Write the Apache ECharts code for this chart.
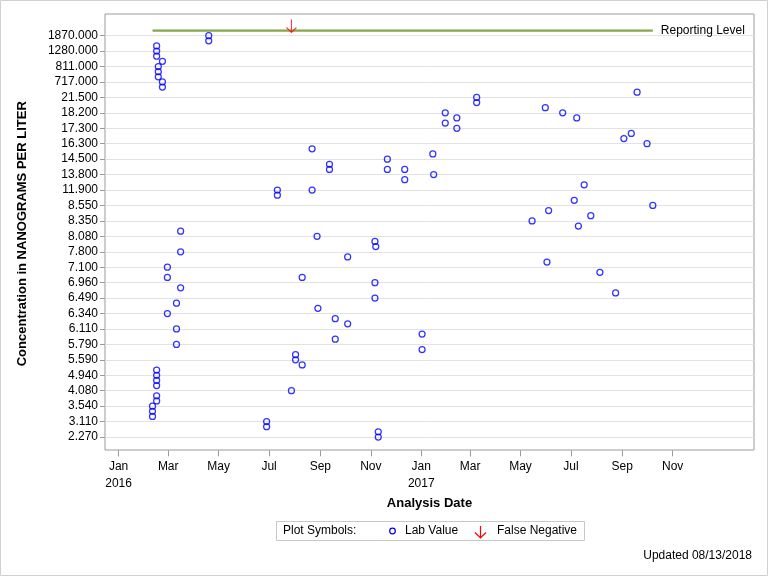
<!DOCTYPE html>
<html>
<head>
<meta charset="utf-8">
<script src="https://cdn.jsdelivr.net/npm/echarts@6/dist/echarts.min.js"></script>
<style>
html,body{margin:0;padding:0;background:#fff;}
#chart{width:768px;height:576px;}
</style>
</head>
<body>
<div id="chart"></div>
<script>
// ---- Data ----
// Distinct concentration values (ascending) used as the discrete y categories
const yCategoryValues = [
  2.27, 2.5, 2.9, 3.11, 3.25, 3.4, 3.54, 3.7, 3.9, 4.08,
  4.3, 4.6, 4.94, 5.2, 5.4, 5.59, 5.65, 5.72, 5.79, 5.9,
  6.0, 6.11, 6.18, 6.26, 6.34, 6.39, 6.44, 6.49, 6.65, 6.8,
  6.96, 7.0, 7.05, 7.1, 7.3, 7.55, 7.8, 7.9, 8.0, 8.08,
  8.17, 8.26, 8.35, 8.42, 8.49, 8.55, 9.5, 10.7, 11.9, 12.5,
  13.2, 13.8, 14.0, 14.3, 14.5, 15.1, 15.7, 16.3, 16.6, 17.0,
  17.3, 17.6, 17.9, 18.2, 19.3, 20.4, 21.5, 23.1, 640, 717,
  750, 780, 811, 950, 1100, 1280, 1470, 1670, 1870, 2000
];
const reportingLevel = 2000;

// Lab values: analysis dates and concentrations (ng/L)
const labDates = [
  '2016-02-11','2016-02-11','2016-02-11',
  '2016-02-16','2016-02-16','2016-02-16','2016-02-16','2016-02-16','2016-02-16','2016-02-16','2016-02-16','2016-02-16',
  '2016-02-18','2016-02-18','2016-02-18',
  '2016-02-23','2016-02-23','2016-02-23',
  '2016-02-29','2016-02-29','2016-02-29',
  '2016-03-11','2016-03-11','2016-03-11',
  '2016-03-16','2016-03-16','2016-03-16',
  '2016-04-19','2016-04-19',
  '2016-06-28','2016-06-28',
  '2016-07-11','2016-07-11',
  '2016-07-28',
  '2016-08-02','2016-08-02',
  '2016-08-10','2016-08-10',
  '2016-08-22','2016-08-22',
  '2016-08-28',
  '2016-08-29',
  '2016-09-12','2016-09-12',
  '2016-09-19','2016-09-19',
  '2016-10-04','2016-10-04',
  '2016-11-06','2016-11-06','2016-11-06',
  '2016-11-07',
  '2016-11-10','2016-11-10',
  '2016-11-21','2016-11-21',
  '2016-12-12','2016-12-12',
  '2017-01-02','2017-01-02',
  '2017-01-15',
  '2017-01-16',
  '2017-01-30','2017-01-30',
  '2017-02-13','2017-02-13',
  '2017-03-09','2017-03-09',
  '2017-05-15','2017-05-31','2017-06-02','2017-06-04','2017-06-21',
  '2017-07-05','2017-07-08','2017-07-10','2017-07-17','2017-07-25',
  '2017-08-05','2017-08-24','2017-09-03','2017-09-12','2017-09-19',
  '2017-10-01','2017-10-08'
];
const labConcentrations = [
  3.25, 3.4, 3.54,
  3.7, 3.9, 4.3, 4.6, 4.94, 5.2, 1100, 1280, 1470,
  750, 780, 811,
  640, 717, 950,
  6.34, 7.0, 7.1,
  5.79, 6.11, 6.44,
  6.8, 7.8, 8.17,
  1670, 1870,
  2.9, 3.11,
  10.7, 11.9,
  4.08,
  5.59, 5.65,
  5.4, 7.0,
  11.9, 15.7,
  8.08,
  6.39,
  14.0, 14.3,
  5.9, 6.26,
  6.18, 7.55,
  6.49, 6.96, 8.0,
  7.9,
  2.27, 2.5,
  14.0, 14.5,
  13.2, 14.0,
  5.72, 6.0,
  15.1,
  13.8,
  17.6, 18.2,
  17.3, 17.9,
  20.4, 21.5,
  8.35, 19.3, 7.3, 8.49, 18.2,
  9.5, 17.9, 8.26, 12.5, 8.42,
  7.05, 6.65, 16.6, 17.0, 23.1,
  16.3, 8.55
];

// False negative results (reported at the reporting level)
const falseNegativeDates = ['2016-07-28'];

// X axis ticks
const xTickDates = ['2016-01-01','2016-03-01','2016-05-01','2016-07-01','2016-09-01','2016-11-01',
                    '2017-01-01','2017-03-01','2017-05-01','2017-07-01','2017-09-01','2017-11-01'];
const xTickLabels = ['Jan\n2016','Mar','May','Jul','Sep','Nov','Jan\n2017','Mar','May','Jul','Sep','Nov'];

// ---- Helpers ----
const toTime = s => { const p = s.split('-').map(Number); return Date.UTC(p[0], p[1]-1, p[2]); };
const fmt = v => v.toFixed(3);
const yCategories = yCategoryValues.map(fmt);
const xTickValues = xTickDates.map(toTime);

const labData = labDates.map((d, i) => [toTime(d), fmt(labConcentrations[i])]);
const fnData = falseNegativeDates.map(d => [toTime(d), fmt(reportingLevel)]);
const allTimes = labDates.map(toTime);
const rlData = [[Math.min(...allTimes), fmt(reportingLevel)], [Math.max(...allTimes), fmt(reportingLevel)]];

const FONT = 'Arial, "Liberation Sans", sans-serif';
const FRAME = '#9a9a9a';

const chart = echarts.init(document.getElementById('chart'), null, {renderer: 'canvas'});
chart.setOption({
  animation: false,
  backgroundColor: '#fff',
  textStyle: {fontFamily: FONT},
  grid: [
    {left: 105, right: 14, top: 30.5, bottom: 139, show: false},
    {left: 105, right: 14, top: 14, bottom: 126, show: true, borderColor: FRAME, borderWidth: 1, backgroundColor: 'transparent', z: 0}
  ],
  xAxis: [
    {
      type: 'value', gridIndex: 0, scale: true,
      min: Date.UTC(2015, 11, 15, 13, 30),
      max: Date.UTC(2018, 1, 7, 8, 40),
      offset: 13.3,
      axisLine: {show: false},
      axisTick: {show: true, length: 6, lineStyle: {color: FRAME}, customValues: xTickValues},
      axisLabel: {
        customValues: xTickValues, color: '#000', fontSize: 12, fontFamily: FONT,
        lineHeight: 17, margin: 8, hideOverlap: false,
        formatter: v => { const i = xTickValues.indexOf(v); return i >= 0 ? xTickLabels[i] : ''; }
      },
      splitLine: {show: false},
      name: 'Analysis Date', nameLocation: 'middle', nameGap: 46,
      nameTextStyle: {fontSize: 13, fontWeight: 'bold', color: '#000', fontFamily: FONT}
    },
    {type: 'value', gridIndex: 1, show: false}
  ],
  yAxis: [
    {
      type: 'category', gridIndex: 0, data: yCategories, boundaryGap: false,
      axisLine: {show: false},
      axisTick: {show: true, interval: 2, length: 5, lineStyle: {color: FRAME}},
      axisLabel: {interval: 2, color: '#000', fontSize: 12, fontFamily: FONT, margin: 7},
      splitLine: {show: true, interval: 2, lineStyle: {color: '#e2e2e2', width: 1}},
      name: 'Concentration in NANOGRAMS PER LITER', nameLocation: 'middle', nameGap: 76, nameRotate: 90,
      nameTextStyle: {fontSize: 13, fontWeight: 'bold', color: '#000', fontFamily: FONT}
    },
    {type: 'value', gridIndex: 1, show: false}
  ],
  series: [
    {
      name: 'Reporting Level', type: 'line', xAxisIndex: 0, yAxisIndex: 0,
      data: rlData, symbol: 'none', silent: true,
      lineStyle: {color: '#8aa64e', width: 2.5},
      endLabel: {show: true, formatter: 'Reporting Level', color: '#000', fontSize: 12, fontFamily: FONT,
                 distance: 0, align: 'left', verticalAlign: 'middle', padding: [0, 0, 0, 8]},
      z: 2
    },
    {
      name: 'Lab Value', type: 'scatter', xAxisIndex: 0, yAxisIndex: 0, clip: false,
      data: labData, symbol: 'circle', symbolSize: 6,
      itemStyle: {color: 'transparent', borderColor: '#0000ff', borderWidth: 1.25},
      z: 3
    },
    {
      name: 'False Negative', type: 'scatter', xAxisIndex: 0, yAxisIndex: 0, clip: false,
      data: fnData, symbol: 'path://M5,0 L5,13 M0,8 L5,13 L10,8', symbolSize: [10, 13], symbolOffset: [0, -4.5],
      itemStyle: {color: 'transparent', borderColor: '#ff0000', borderWidth: 1.2},
      z: 4
    }
  ],
  graphic: [
    {type: 'rect', shape: {x: 0.5, y: 0.5, width: 767, height: 575}, style: {fill: 'none', stroke: '#d0d0d0', lineWidth: 1}, silent: true, z: -10},
    // Legend box
    {type: 'rect', shape: {x: 276.5, y: 521.5, width: 308, height: 19}, style: {fill: '#fff', stroke: '#c8c8c8', lineWidth: 1}, z: 10},
    {type: 'text', x: 283, y: 531, style: {text: 'Plot Symbols:', font: '12px ' + FONT, fill: '#000', verticalAlign: 'middle'}, z: 11},
    {type: 'circle', shape: {cx: 392.5, cy: 531, r: 2.8}, style: {fill: 'none', stroke: '#0000ff', lineWidth: 1.25}, z: 11},
    {type: 'text', x: 405, y: 531, style: {text: 'Lab Value', font: '12px ' + FONT, fill: '#000', verticalAlign: 'middle'}, z: 11},
    {type: 'polyline', shape: {points: [[480.5, 526], [480.5, 538]]}, style: {stroke: '#ff0000', lineWidth: 1.2}, z: 11},
    {type: 'polyline', shape: {points: [[475, 532.5], [480.5, 538], [486, 532.5]]}, style: {stroke: '#ff0000', fill: 'none', lineWidth: 1.2}, z: 11},
    {type: 'text', x: 497, y: 531, style: {text: 'False Negative', font: '12px ' + FONT, fill: '#000', verticalAlign: 'middle'}, z: 11},
    // Footnote
    {type: 'text', x: 752, y: 556, style: {text: 'Updated 08/13/2018', font: '12px ' + FONT, fill: '#000', align: 'right', verticalAlign: 'middle'}, z: 11}
  ]
});
</script>
</body>
</html>
